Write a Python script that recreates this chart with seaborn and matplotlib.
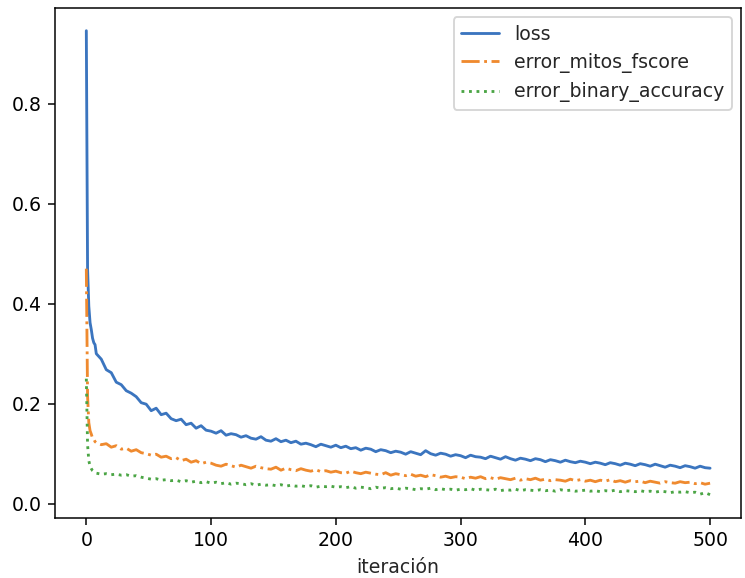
import pandas as pd
import matplotlib
matplotlib.use("Agg")
import matplotlib.pyplot as plt
import seaborn as sns

# iterations: every step at the start, then every 4th
iterations = list(range(0, 8)) + list(range(8, 501, 4))

loss = [
    0.946, 0.470, 0.395, 0.362, 0.348, 0.331, 0.322, 0.318,
    0.300, 0.289, 0.268, 0.262, 0.243, 0.238, 0.226, 0.221, 0.214, 0.202,
    0.199, 0.186, 0.191, 0.178, 0.181, 0.170, 0.166, 0.169, 0.158, 0.161,
    0.151, 0.156, 0.147, 0.145, 0.141, 0.146, 0.137, 0.140, 0.138, 0.133,
    0.136, 0.131, 0.129, 0.134, 0.127, 0.125, 0.130, 0.124, 0.127, 0.122,
    0.125, 0.119, 0.121, 0.118, 0.114, 0.119, 0.116, 0.113, 0.117, 0.112,
    0.115, 0.110, 0.112, 0.107, 0.111, 0.109, 0.104, 0.108, 0.106, 0.102,
    0.105, 0.103, 0.099, 0.104, 0.101, 0.098, 0.106, 0.100, 0.097, 0.101,
    0.099, 0.095, 0.098, 0.096, 0.092, 0.097, 0.094, 0.093, 0.090, 0.095,
    0.092, 0.089, 0.094, 0.090, 0.087, 0.091, 0.089, 0.086, 0.090, 0.088,
    0.084, 0.088, 0.086, 0.083, 0.087, 0.084, 0.082, 0.085, 0.083, 0.080,
    0.083, 0.081, 0.078, 0.082, 0.080, 0.077, 0.081, 0.079, 0.076, 0.080,
    0.078, 0.075, 0.079, 0.076, 0.073, 0.077, 0.075, 0.072, 0.076, 0.074,
    0.071, 0.075, 0.072, 0.071,
]

error_mitos_fscore = [
    0.470, 0.215, 0.162, 0.146, 0.139, 0.131, 0.129, 0.124,
    0.122, 0.118, 0.120, 0.113, 0.116, 0.109, 0.111, 0.105, 0.108, 0.102,
    0.100, 0.097, 0.099, 0.093, 0.095, 0.090, 0.092, 0.086, 0.089, 0.083,
    0.086, 0.080, 0.083, 0.081, 0.077, 0.075, 0.079, 0.076, 0.073, 0.077,
    0.074, 0.071, 0.075, 0.072, 0.070, 0.069, 0.073, 0.067, 0.071, 0.068,
    0.066, 0.070, 0.067, 0.065, 0.068, 0.064, 0.066, 0.063, 0.065, 0.062,
    0.061, 0.065, 0.062, 0.060, 0.063, 0.061, 0.059, 0.058, 0.062, 0.057,
    0.060, 0.058, 0.056, 0.059, 0.055, 0.057, 0.054, 0.058, 0.056, 0.053,
    0.055, 0.052, 0.054, 0.053, 0.050, 0.053, 0.051, 0.054, 0.050, 0.052,
    0.049, 0.052, 0.050, 0.048, 0.051, 0.047, 0.050, 0.048, 0.051, 0.047,
    0.049, 0.046, 0.048, 0.047, 0.045, 0.049, 0.046, 0.048, 0.045, 0.047,
    0.044, 0.047, 0.045, 0.048, 0.044, 0.046, 0.043, 0.046, 0.044, 0.045,
    0.042, 0.045, 0.043, 0.041, 0.044, 0.042, 0.041, 0.044, 0.042, 0.043,
    0.040, 0.042, 0.039, 0.041,
]

error_binary_accuracy = [
    0.250, 0.118, 0.086, 0.075, 0.070, 0.066, 0.064, 0.062,
    0.061, 0.059, 0.060, 0.058, 0.059, 0.057, 0.058, 0.055, 0.056, 0.053,
    0.051, 0.049, 0.050, 0.047, 0.048, 0.046, 0.047, 0.044, 0.046, 0.043,
    0.045, 0.042, 0.044, 0.041, 0.043, 0.040, 0.042, 0.039, 0.041, 0.040,
    0.038, 0.040, 0.037, 0.039, 0.037, 0.038, 0.036, 0.038, 0.035, 0.037,
    0.035, 0.036, 0.034, 0.036, 0.033, 0.035, 0.034, 0.035, 0.033, 0.034,
    0.032, 0.034, 0.031, 0.033, 0.032, 0.030, 0.033, 0.031, 0.032, 0.030,
    0.031, 0.029, 0.031, 0.030, 0.028, 0.030, 0.029, 0.031, 0.028, 0.030,
    0.028, 0.029, 0.027, 0.029, 0.028, 0.030, 0.027, 0.029, 0.028, 0.027,
    0.029, 0.026, 0.028, 0.027, 0.029, 0.026, 0.028, 0.027, 0.026, 0.028,
    0.026, 0.027, 0.025, 0.028, 0.026, 0.027, 0.025, 0.026, 0.027, 0.025,
    0.026, 0.024, 0.026, 0.025, 0.027, 0.024, 0.026, 0.025, 0.024, 0.026,
    0.024, 0.025, 0.023, 0.025, 0.024, 0.022, 0.024, 0.023, 0.024, 0.022,
    0.023, 0.019, 0.022, 0.018,
]

series_names = ["loss", "error_mitos_fscore", "error_binary_accuracy"]
colors = ["#3b75bf", "#ef8a2f", "#4ba545"]
styles = ["-", "-.", ":"]


def main():
    sns.set_style("ticks")
    plt.rcParams.update({
        "font.family": ["DejaVu Sans"],
        "font.size": 10,
        "xtick.direction": "out",
        "ytick.direction": "out",
        "xtick.major.size": 3.5,
        "ytick.major.size": 3.5,
        "xtick.major.width": 0.8,
        "ytick.major.width": 0.8,
        "axes.edgecolor": "black",
        "axes.linewidth": 0.8,
        "xtick.color": "black",
        "ytick.color": "black",
    })

    df = pd.DataFrame({
        "iteración": iterations,
        "loss": loss,
        "error_mitos_fscore": error_mitos_fscore,
        "error_binary_accuracy": error_binary_accuracy,
    })

    dpi = 136
    fig, ax = plt.subplots(figsize=(745 / dpi, 578 / dpi), dpi=dpi)
    fig.subplots_adjust(left=0.074, right=0.995, bottom=0.104, top=0.987)

    for name, col, ls in zip(series_names, colors, styles):
        sns.lineplot(data=df, x="iteración", y=name, ax=ax, color=col,
                     linestyle=ls, linewidth=1.5, label=name)

    ax.set_ylabel("")
    ax.set_xlabel("iteración")
    ax.set_xticks([0, 100, 200, 300, 400, 500])
    ax.set_yticks([0.0, 0.2, 0.4, 0.6, 0.8])
    ax.legend(loc="upper right", frameon=True)

    fig.savefig("out.png", dpi=dpi)


if __name__ == "__main__":
    main()
